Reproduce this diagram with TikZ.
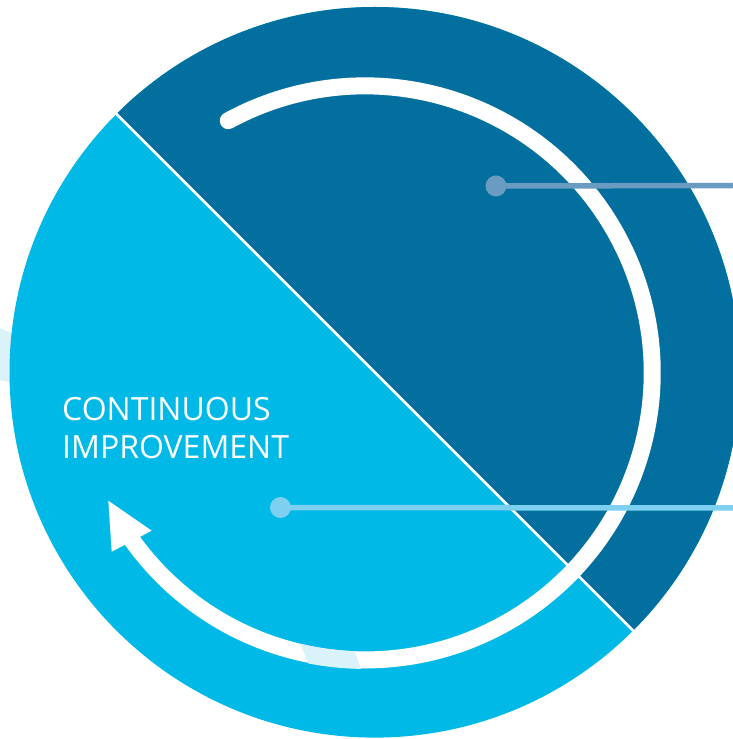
\documentclass[tikz,border=0pt]{standalone}
\usepackage{fontspec}
\setmainfont{Open Sans}
\usetikzlibrary{calc}
\definecolor{darkblue}{RGB}{3,111,158}
\definecolor{lightblue}{RGB}{0,185,230}
\definecolor{darkdot}{RGB}{106,155,192}
\definecolor{lightdot}{RGB}{125,208,240}
\definecolor{pale}{RGB}{218,242,250}
\tikzset{
  dotdark/.style={circle, fill=darkdot, minimum size=21pt, inner sep=0pt},
  dotlight/.style={circle, fill=lightdot, minimum size=21pt, inner sep=0pt},
  leaddark/.style={draw=darkdot, line width=5.5pt},
  leadlight/.style={draw=lightdot, line width=5.5pt},
  cyclearc/.style={draw=white, line width=17pt, line cap=round},
  lbl/.style={text=white, inner sep=0pt, font=\fontsize{32}{38}\selectfont}
}
\begin{document}
\begin{tikzpicture}[x=1pt,y=1pt]
\clip (0,0) rectangle (733,739);
\coordinate (c) at (374.8,366.7);
\coordinate (ac) at (365.2,366.1);
% pale band at left, behind circle
\fill[pale] (0,411) -- (20,402) -- (20,354) -- (0,359) -- cycle;
% main circle
\fill[lightblue] (c) circle[radius=365.3];
\fill[darkblue] ($(c)+(135:365.3)$) arc[start angle=135, end angle=-45, radius=365.3] -- cycle;
\draw[white, line width=2.5pt] ($(c)+(135:366)$) -- ($(c)+(-45:366)$);
% cycle arrow
\draw[cyclearc] ($(ac)+(118.5:287)$) arc[start angle=118.5, end angle=-144.5, radius=287];
\fill[white] (108.3,238.3) -- (111.7,187.3) -- (151.7,208.3) -- cycle;
% pale patch across the arc
\begin{scope}[even odd rule]
\clip (ac) circle[radius=296] (ac) circle[radius=278.5];
\fill[pale] (294.8,109) -- (347.2,109) -- (364.9,59) -- (314.8,59) -- cycle;
\end{scope}
% leader lines
\node[dotdark] (d1) at (496,553) {};
\coordinate (e1) at (735,553.5);
\draw[leaddark] (d1.center) -- (e1);
\node[dotlight] (d2) at (280.5,231.5) {};
\coordinate (e2) at (735,231);
\draw[leadlight] (d2.center) -- (e2);
% label
\node[lbl, anchor=base west] (t1) at (62,318.5) {CONTINUOUS};
\node[lbl, anchor=base west] (t2) at (62,280) {IMPROVEMENT};
\end{tikzpicture}
\end{document}
